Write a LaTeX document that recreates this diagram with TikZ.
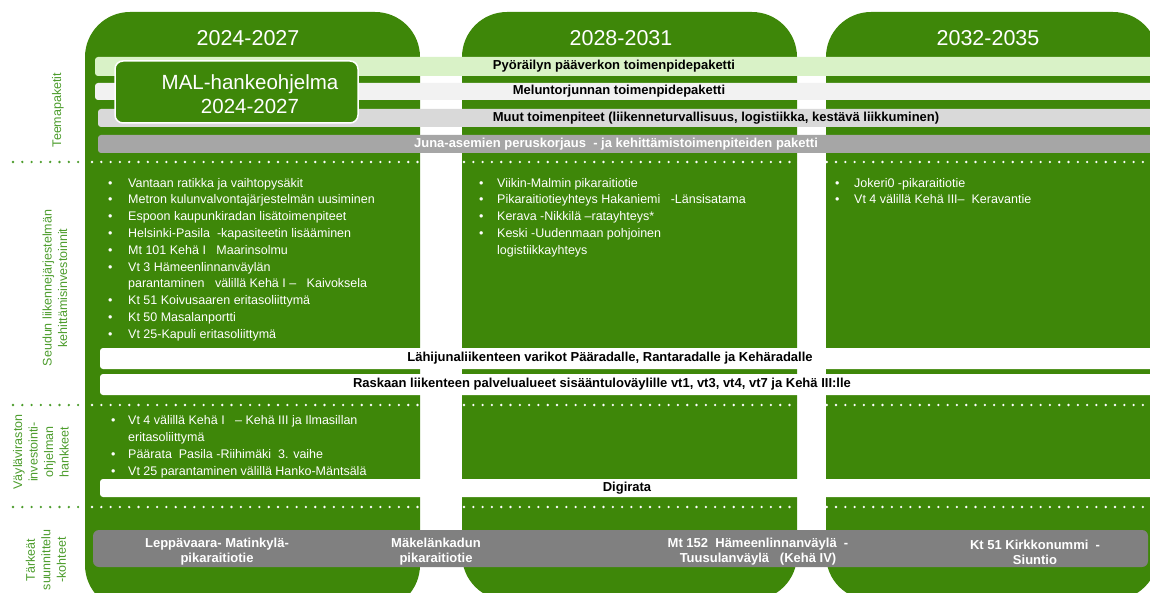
\documentclass[tikz,border=0pt]{standalone}
\usepackage{fontspec}
\setmainfont{Liberation Sans}
\definecolor{malgreen}{HTML}{3E8709}
\definecolor{labelgreen}{HTML}{4C9C2C}
\definecolor{barcycle}{HTML}{D9F2C7}
\definecolor{barnoise}{HTML}{F2F2F2}
\definecolor{barother}{HTML}{D9D9D9}
\definecolor{barstation}{HTML}{A6A6A6}
\definecolor{barplan}{HTML}{808080}

\begin{document}
\begin{tikzpicture}[x=1pt,y=-1pt,
		period/.style={fill=malgreen, rounded corners=45pt},
		bar/.style={rounded corners=3pt},
		bartext/.style={inner sep=0pt, font=\fontsize{13}{15}\selectfont\bfseries},
		year/.style={inner sep=0pt, text=white, font=\fontsize{21.5}{24}\selectfont},
		items/.style={inner sep=0pt, anchor=north west, text=white, font=\fontsize{12.5}{16.8}\selectfont},
		sidelabel/.style={inner sep=0pt, rotate=90, align=center, text=labelgreen, font=\fontsize{12.5}{15.5}\selectfont},
		dots/.style={line width=2.6pt, line cap=round, dash pattern=on 0pt off 9.3pt}]
		
		\useasboundingbox (0,0) rectangle (1150,593);
		\clip (0,0) rectangle (1150,593);
		
		% kaudet
		\fill[period] (85,12) rectangle (420,610);
		\fill[period] (462,12) rectangle (797,600);
		\fill[period] (826,12) rectangle (1158,600);
		
		\node[year] (y1) at (248,38) {2024-2027};
		\node[year] (y2) at (621,38) {2028-2031};
		\node[year] (y3) at (988,38) {2032-2035};
		
		% teemapaketit
		\fill[bar, barcycle] (95,57) rectangle (1160,76);
		\fill[bar, barnoise] (95,83) rectangle (1160,100);
		\fill[bar, barother] (98,109) rectangle (1160,127);
		\fill[bar, barstation] (98,135) rectangle (1160,153);
		
		\node[bartext] (cycle) at (614,66.5) {Pyöräilyn pääverkon toimenpidepaketti};
		\node[bartext] (noise) at (619,91.5) {Meluntorjunnan toimenpidepaketti};
		\node[bartext] (other) at (716,118) {Muut toimenpiteet (liikenneturvallisuus, logistiikka, kestävä liikkuminen)};
		\node[bartext, text=white] (station) at (616,144) {Juna-asemien peruskorjaus\ \ - ja kehittämistoimenpiteiden paketti};
		
		\node[draw=white, line width=1.5pt, fill=malgreen, rounded corners=8pt,
			minimum width=243pt, minimum height=62pt] (mal) at (236.5,92) {};
		\node[year, align=center, font=\fontsize{20.5}{24}\selectfont] (maltext) at (250,94) {MAL-hankeohjelma\\2024-2027};
		
		% rajat
		\foreach \y in {162,405,507} {
			\draw[dots, labelgreen] (13,\y) -- (83,\y);
			\draw[dots, white] (92,\y) -- (1150,\y);
		}
		
		% seudun investoinnit
		\node[items] (list1) at (107.8,175.2) {\begin{tabular}{@{}l@{\hspace{15.8pt}}l@{}}
				• & Vantaan ratikka ja vaihtopysäkit\\
				• & Metron kulunvalvontajärjestelmän uusiminen\\
				• & Espoon kaupunkiradan lisätoimenpiteet\\
				• & Helsinki-Pasila\ \ -kapasiteetin lisääminen\\
				• & Mt 101 Kehä I\ \ \ Maarinsolmu\\
				• & Vt 3 Hämeenlinnanväylän\\
				& parantaminen\ \ \ välillä Kehä I –\ \ \ Kaivoksela\\
				• & Kt 51 Koivusaaren eritasoliittymä\\
				• & Kt 50 Masalanportti\\
				• & Vt 25-Kapuli eritasoliittymä
			\end{tabular}};
		\node[items] (list2) at (478.8,175.2) {\begin{tabular}{@{}l@{\hspace{13.8pt}}l@{}}
				• & Viikin-Malmin pikaraitiotie\\
				• & Pikaraitiotieyhteys Hakaniemi\ \ \ -Länsisatama\\
				• & Kerava -Nikkilä –ratayhteys*\\
				• & Keski -Uudenmaan pohjoinen\\
				& logistiikkayhteys
			\end{tabular}};
		\node[items] (list3) at (834.8,175.2) {\begin{tabular}{@{}l@{\hspace{14.8pt}}l@{}}
				• & Jokeri0 -pikaraitiotie\\
				• & Vt 4 välillä Kehä III–\ \ Keravantie
			\end{tabular}};
		
		\fill[bar, white] (100,348) rectangle (1160,369);
		\fill[bar, white] (100,374) rectangle (1160,395);
		\node[bartext] (depots) at (610,358.5) {Lähijunaliikenteen varikot Pääradalle, Rantaradalle ja Kehäradalle};
		\node[bartext] (service) at (602,384.5) {Raskaan liikenteen palvelualueet sisääntuloväylille vt1, vt3, vt4, vt7 ja Kehä III:lle};
		
		% väyläviraston hankkeet
		\node[items] (list4) at (110.8,412.7) {\begin{tabular}{@{}l@{\hspace{12.8pt}}l@{}}
				• & Vt 4 välillä Kehä I\ \ \ – Kehä III ja Ilmasillan\\
				& eritasoliittymä\\
				• & Päärata\ \ Pasila -Riihimäki\ \ 3. vaihe\\
				• & Vt 25 parantaminen välillä Hanko-Mäntsälä
			\end{tabular}};
		
		\fill[bar, white] (100,479) rectangle (1160,497);
		\node[bartext] (digi) at (627,488) {Digirata};
		
		% suunnittelukohteet
		\fill[bar, barplan, rounded corners=6pt] (93,530) rectangle (1148,567);
		\node[bartext, text=white, align=center] (plan1) at (217,552) {Leppävaara- Matinkylä-\\pikaraitiotie};
		\node[bartext, text=white, align=center] (plan2) at (436,552) {Mäkelänkadun\\pikaraitiotie};
		\node[bartext, text=white, align=center] (plan3) at (758,552) {Mt 152\ \ Hämeenlinnanväylä\ \ -\\Tuusulanväylä\ \ \ (Kehä IV)};
		\node[bartext, text=white, align=center] (plan4) at (1035,552) {Kt 51 Kirkkonummi\ \ -\\Siuntio};
		
		% sivuotsikot
		\node[sidelabel] (theme) at (58,110) {Teemapaketit};
		\node[sidelabel] (regional) at (55,288) {Seudun liikennejärjestelmän\\kehittämisinvestoinnit};
		\node[sidelabel] (agency) at (41,452) {Väyläviraston\\investointi-\\ohjelman\\hankkeet};
		\node[sidelabel] (planning) at (46,560) {Tärkeät\\suunnittelu\\-kohteet};
		
	\end{tikzpicture}
\end{document}
